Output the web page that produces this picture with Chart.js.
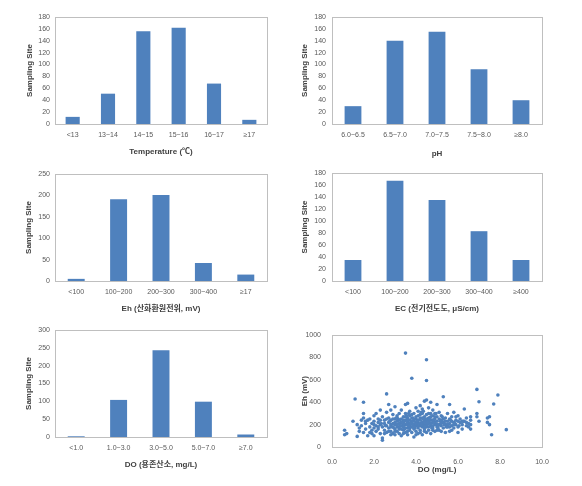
<!DOCTYPE html>
<html><head><meta charset="utf-8">
<script src="https://cdn.jsdelivr.net/npm/chart.js@4/dist/chart.umd.min.js"></script>
<style>
html,body{margin:0;padding:0;background:#fff;width:582px;height:486px;overflow:hidden;}
canvas{position:absolute;}
</style></head><body>
<canvas id="c1" width="290" height="165" style="left:0;top:0;width:290px;height:165px"></canvas>
<canvas id="c2" width="292" height="165" style="left:290px;top:0;width:292px;height:165px"></canvas>
<canvas id="c3" width="290" height="165" style="left:0;top:160px;width:290px;height:165px"></canvas>
<canvas id="c4" width="292" height="165" style="left:290px;top:160px;width:292px;height:165px"></canvas>
<canvas id="c5" width="290" height="166" style="left:0;top:320px;width:290px;height:166px"></canvas>
<canvas id="c6" width="292" height="166" style="left:290px;top:320px;width:292px;height:166px"></canvas>
<script>
// ---- data ----
const tempLabels = ['<13', '13~14', '14~15', '15~16', '16~17', '≥17'];
const tempValues = [12, 51, 156, 162, 68, 7];
const phLabels = ['6.0~6.5', '6.5~7.0', '7.0~7.5', '7.5~8.0', '≥8.0'];
const phValues = [30, 140, 155, 92, 40];
const ehLabels = ['<100', '100~200', '200~300', '300~400', '≥17'];
const ehValues = [5, 191, 201, 42, 15];
const ecLabels = ['<100', '100~200', '200~300', '300~400', '≥400'];
const ecValues = [35, 167, 135, 83, 35];
const doLabels = ['<1.0', '1.0~3.0', '3.0~5.0', '5.0~7.0', '≥7.0'];
const doValues = [2, 104, 243, 99, 7];
const scatterDO = [
0.6,0.6,0.7,1.0,1.1,1.2,1.2,1.3,1.3,1.4,1.4,1.5,1.5,1.5,1.5,1.6,1.6,1.7,1.7,1.8,1.8,1.9,1.9,1.9,2.0,2.0,2.0,2.0,
2.1,2.1,2.1,2.2,2.2,2.2,2.3,2.3,2.3,2.4,2.4,2.4,2.4,2.5,2.5,2.5,2.6,2.6,2.6,2.6,2.7,2.7,2.7,2.7,2.8,2.8,2.8,2.8,2.9,2.9,2.9,2.9,3.0,3.0,3.0,3.0,3.0,
3.1,3.1,3.1,3.1,3.2,3.2,3.2,3.2,3.3,3.3,3.3,3.3,3.4,3.4,3.4,3.4,3.5,3.5,3.5,3.5,3.5,3.5,3.6,3.6,3.6,3.6,3.6,3.7,3.7,3.7,3.7,3.7,3.8,3.8,3.8,3.8,3.8,3.9,3.9,3.9,3.9,3.9,4.0,4.0,4.0,4.0,4.0,
4.1,4.1,4.1,4.1,4.1,4.2,4.2,4.2,4.2,4.2,4.3,4.3,4.3,4.3,4.3,4.4,4.4,4.4,4.4,4.4,4.5,4.5,4.5,4.5,4.5,4.5,4.5,4.6,4.6,4.6,4.6,4.6,4.7,4.7,4.7,4.7,4.7,4.8,4.8,4.8,4.8,4.9,4.9,4.9,4.9,5.0,5.0,5.0,5.0,
5.1,5.1,5.1,5.2,5.2,5.2,5.3,5.3,5.3,5.4,5.4,5.4,5.5,5.5,5.5,5.6,5.6,5.6,5.7,5.7,5.7,5.8,5.8,5.8,5.9,5.9,6.0,6.0,6.0,
6.1,6.1,6.2,6.2,6.3,6.3,6.4,6.4,6.5,6.6,6.6,6.6,6.9,6.9,6.9,7.0,7.0,7.4,7.4,7.5,7.5,7.6,7.7,7.9,8.3,
1.6,1.8,2.0,2.2,2.3,2.5,2.6,2.7,2.8,2.9,3.0,3.1,3.1,3.2,3.2,3.3,3.3,3.4,3.4,3.5,3.5,3.6,3.6,3.7,3.7,3.8,3.8,3.9,3.9,4.0,4.0,4.1,4.1,4.2,4.2,4.3,4.3,4.4,4.4,4.5,4.5,4.6,4.6,4.7,4.7,4.8,4.8,4.9,4.9,5.0,5.0,5.1,5.2,5.3,5.4,5.5,5.6,5.7,5.8,5.9,6.0,6.2,6.4,6.5,6.6,3.4,3.6,4.0,4.2,4.4,4.8,3.0,2.8,5.2,5.6,
2.35,2.55,2.75,2.95,3.15,3.25,3.35,3.45,3.55,3.65,3.75,3.85,3.95,4.05,4.15,4.25,4.35,4.45,4.55,4.65,4.75,4.85,4.95,5.05,5.15,5.25,5.35,5.45,5.65,5.85,6.05,6.25,3.05,3.45,3.85,4.25,4.65,5.05,4.35,3.65
];
const scatterEh = [
150,110,120,230,430,200,95,170,140,240,190,400,300,260,130,210,160,100,240,250,180,150,120,210,170,230,280,100,
190,300,140,220,250,160,330,200,120,80,60,180,270,150,210,240,475,310,190,130,380,220,170,260,200,140,330,240,180,120,290,210,360,250,160,200,110,
230,180,140,280,210,300,160,120,250,190,330,100,220,270,150,180,840,380,240,200,130,300,390,260,170,220,110,280,190,240,150,320,615,210,260,130,180,300,230,160,200,90,350,250,190,140,220,
280,210,170,320,120,370,240,190,260,150,300,220,340,180,110,410,270,200,240,160,780,595,420,290,230,180,130,350,260,210,300,150,400,240,190,270,120,330,220,280,170,250,200,300,140,380,230,180,270,
200,310,150,240,190,280,450,220,170,260,200,130,300,230,180,380,210,250,270,190,150,220,310,170,240,200,280,180,130,
220,250,200,160,340,230,190,260,210,240,160,270,515,300,270,405,230,260,220,270,200,110,385,465,155,
230,130,200,180,240,120,250,140,180,250,220,200,260,240,180,220,160,200,240,170,270,200,240,210,170,230,290,250,180,210,270,190,240,210,290,200,260,220,180,250,200,230,180,210,300,240,190,220,270,200,150,250,210,250,230,200,180,230,200,270,230,230,220,180,200,120,140,110,130,140,150,140,110,140,140,
210,190,230,170,250,190,220,160,280,190,210,260,170,230,200,310,250,190,220,260,170,240,300,190,230,270,200,180,240,210,190,230,260,230,180,200,250,170,320,300
];

// ---- styling helpers ----
const BLUE = '#4F81BD';
const FONT = "'Liberation Sans', 'Noto Sans CJK KR', sans-serif";
const TICK = { family: FONT, size: 7 };
const TITLE = { family: FONT, size: 8, weight: 'bold' };

const frame = {
  id: 'frame',
  afterDraw(chart) {
    const a = chart.chartArea, ctx = chart.ctx;
    ctx.save();
    ctx.strokeStyle = '#BFBFBF';
    ctx.lineWidth = 1;
    ctx.strokeRect(Math.round(a.left) + 0.5, Math.round(a.top) + 0.5, Math.round(a.right - a.left), Math.round(a.bottom - a.top));
    ctx.restore();
  }
};

function layoutOpts(g) {
  return { padding: { left: 0, top: g.top, right: g.w - g.right, bottom: 0 } };
}

function makeBar(id, labels, values, yMax, yStep, xTitle, g) {
  new Chart(document.getElementById(id), {
    type: 'bar',
    data: { labels: labels, datasets: [{ data: values, backgroundColor: BLUE, barPercentage: 0.4, categoryPercentage: 1.0 }] },
    options: {
      responsive: false, animation: false,
      layout: layoutOpts(g),
      plugins: { legend: { display: false }, tooltip: { enabled: false } },
      scales: {
        x: {
          grid: { display: false, drawTicks: false }, border: { display: false },
          ticks: { font: TICK, color: '#595959', padding: g.xtp, maxRotation: 0, autoSkip: false },
          title: { display: true, text: xTitle, font: TITLE, color: '#404040', padding: { top: 0, bottom: g.xtb } },
          afterFit: s => { s.height = g.h - g.bottom; }
        },
        y: {
          min: 0, max: yMax,
          grid: { display: false, drawTicks: false }, border: { display: false },
          ticks: { stepSize: yStep, font: TICK, color: '#595959', padding: g.ytp },
          title: { display: true, text: 'Sampling Site', font: TITLE, color: '#404040', padding: { top: g.ytt, bottom: 0 } },
          afterFit: s => { s.width = g.left; }
        }
      }
    },
    plugins: [frame]
  });
}

makeBar('c1', tempLabels, tempValues, 180, 20, 'Temperature (℃)',
  { w: 290, h: 165, left: 55, right: 267, top: 17, bottom: 124, xtp: 7, xtb: 8, ytp: 5, ytt: 25 });
makeBar('c2', phLabels, phValues, 180, 20, 'pH',
  { w: 292, h: 165, left: 42, right: 252, top: 17, bottom: 124, xtp: 7, xtb: 6, ytp: 6, ytt: 10 });
makeBar('c3', ehLabels, ehValues, 250, 50, 'Eh (산화환원전위, mV)',
  { w: 290, h: 165, left: 55, right: 267, top: 14, bottom: 121, xtp: 7, xtb: 11, ytp: 5, ytt: 24 });
makeBar('c4', ecLabels, ecValues, 180, 20, 'EC (전기전도도, μS/cm)',
  { w: 292, h: 165, left: 42, right: 252, top: 13, bottom: 121, xtp: 7, xtb: 11, ytp: 6, ytt: 10 });
makeBar('c5', doLabels, doValues, 300, 50, 'DO (용존산소, mg/L)',
  { w: 290, h: 166, left: 55, right: 267, top: 10, bottom: 117, xtp: 7, xtb: 16, ytp: 5, ytt: 24 });

const sg = { w: 292, h: 166, left: 42, right: 252, top: 10, bottom: 127 };
new Chart(document.getElementById('c6'), {
  type: 'scatter',
  data: { datasets: [{ data: scatterDO.map((x, i) => ({ x: x, y: scatterEh[i] })), backgroundColor: BLUE, borderColor: BLUE, pointRadius: 1.8, borderWidth: 0 }] },
  options: {
    responsive: false, animation: false,
    layout: layoutOpts(sg),
    plugins: { legend: { display: false }, tooltip: { enabled: false } },
    scales: {
      x: {
        type: 'linear', min: 0, max: 10,
        grid: { display: false, drawTicks: false }, border: { display: false },
        ticks: { stepSize: 2, font: TICK, color: '#595959', padding: 11, callback: v => v.toFixed(1) },
        title: { display: true, text: 'DO (mg/L)', font: TITLE, color: '#404040', padding: { top: 0, bottom: 11 } },
        afterFit: s => { s.height = sg.h - sg.bottom; }
      },
      y: {
        min: 0, max: 1000,
        grid: { display: false, drawTicks: false }, border: { display: false },
        ticks: { stepSize: 200, font: TICK, color: '#595959', padding: 11, callback: v => String(v) },
        title: { display: true, text: 'Eh (mV)', font: TITLE, color: '#404040', padding: { top: 10, bottom: 0 } },
        afterFit: s => { s.width = sg.left; }
      }
    }
  },
  plugins: [frame]
});
</script>
</body></html>
